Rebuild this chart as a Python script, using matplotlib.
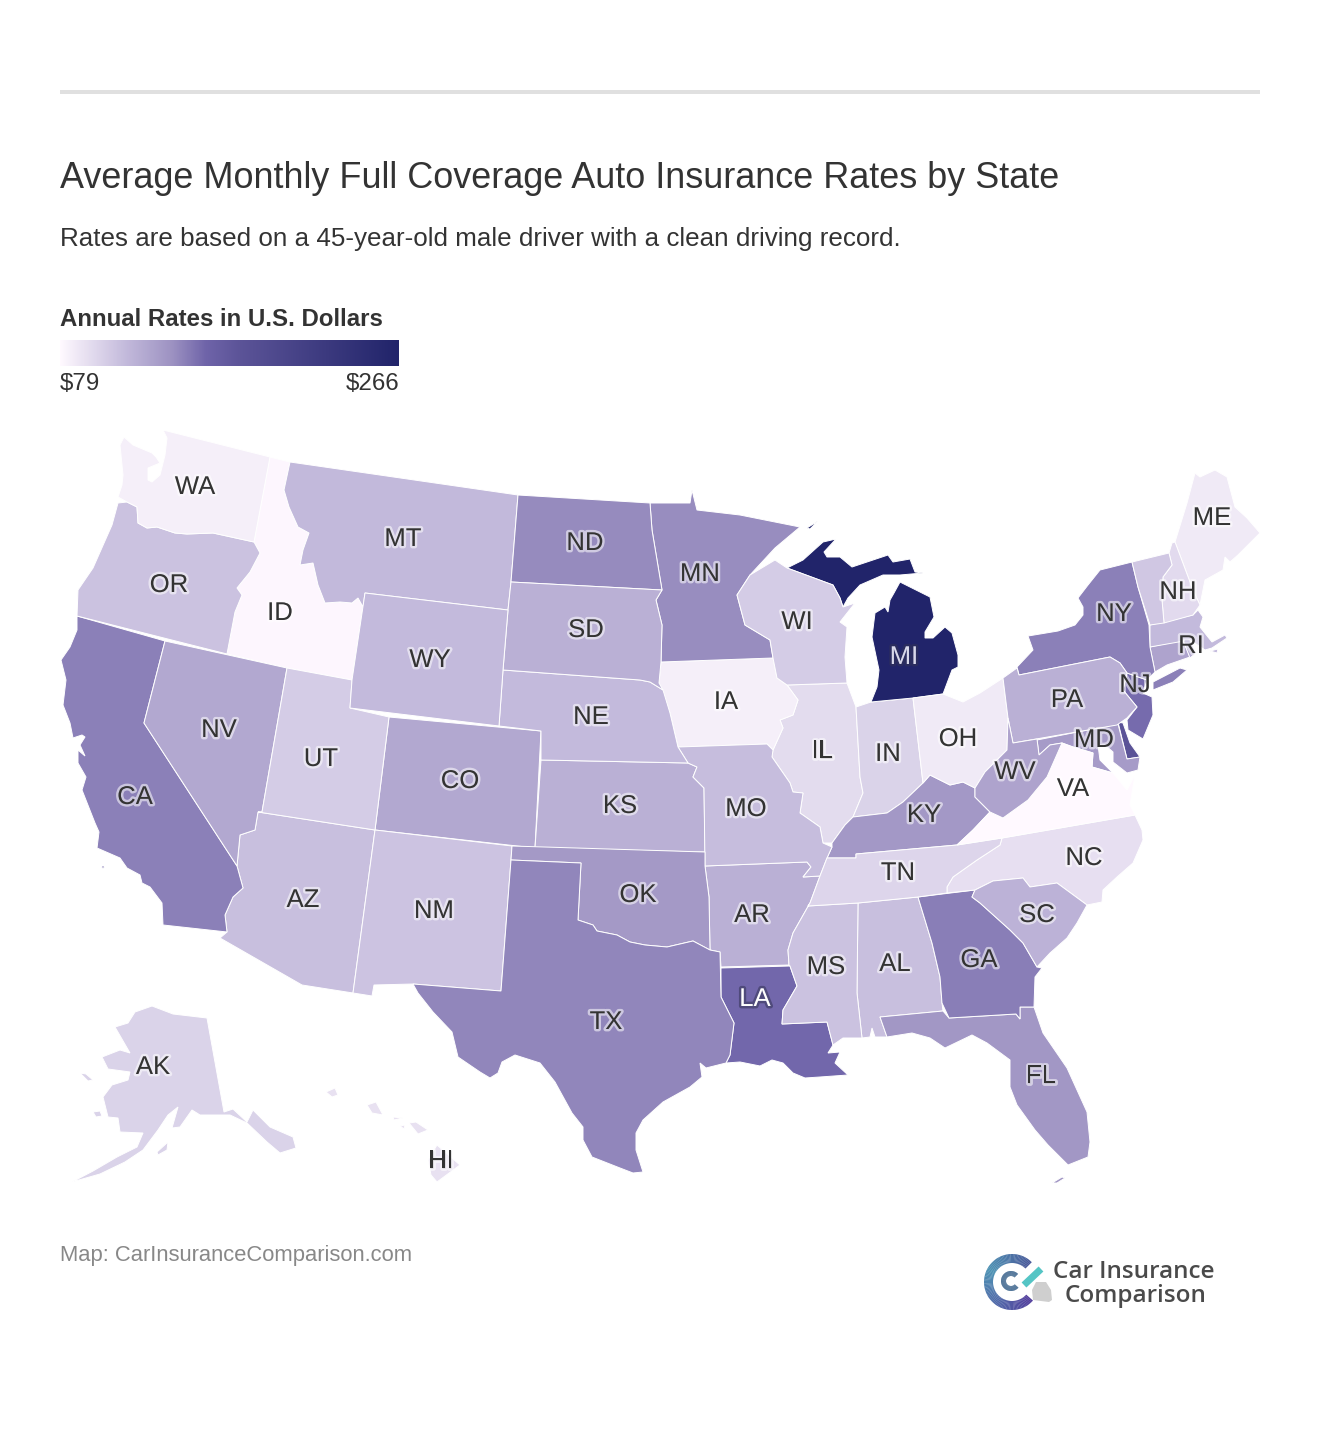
import numpy as np
import matplotlib.pyplot as plt
import matplotlib.patheffects as pe
from matplotlib.colors import LinearSegmentedColormap, Normalize
from matplotlib.patches import Polygon, Wedge, Rectangle

plt.rcParams['font.family'] = ['Liberation Sans', 'DejaVu Sans']

title = 'Average Monthly Full Coverage Auto Insurance Rates by State'
subtitle = 'Rates are based on a 45-year-old male driver with a clean driving record.'
legend_title = 'Annual Rates in U.S. Dollars'
source = 'Map: CarInsuranceComparison.com'
rate_min = 79
rate_max = 266

states = ['AL', 'AK', 'AZ', 'AR', 'CA', 'CO', 'CT', 'DE', 'FL', 'GA', 'HI', 'ID', 'IL', 'IN', 'IA', 'KS', 'KY',
          'LA', 'ME', 'MD', 'MA', 'MI', 'MN', 'MS', 'MO', 'MT', 'NE', 'NV', 'NH', 'NJ', 'NM', 'NY', 'NC', 'ND',
          'OH', 'OK', 'OR', 'PA', 'RI', 'SC', 'SD', 'TN', 'TX', 'UT', 'VT', 'VA', 'WA', 'WV', 'WI', 'WY']
rates = [112, 101, 112, 122, 148, 127, 130, 180, 138, 149, 93, 81, 96, 101, 85, 122, 137,
         158, 88, 135, 115, 266, 143, 111, 114, 116, 115, 127, 97, 157, 110, 148, 94, 144,
         88, 136, 111, 122, 125, 120, 122, 100, 146, 105, 108, 79, 85, 130, 105, 115]

# Contornos de cada estado, en pixeles de la imagen de referencia
outlines = {
    'WA': [[(163, 430), (270, 457), (254, 542), (213, 533), (187, 534), (175, 533), (157, 527), (147, 528), (138, 523),
            (137, 507), (127, 502), (118, 497), (122, 485), (123, 475), (120, 445), (124, 437), (133, 445), (152, 453),
            (156, 457), (160, 463), (148, 468), (148, 480), (152, 482), (160, 475), (165, 455), (167, 438)]],
    'OR': [[(118, 503), (127, 502), (137, 507), (138, 523), (147, 528), (157, 527), (175, 533), (187, 534), (213, 533),
            (254, 542), (260, 553), (250, 572), (237, 588), (242, 595), (235, 612), (227, 654), (77, 616), (78, 590),
            (93, 568), (112, 525)]],
    'ID': [[(270, 457), (290, 462), (284, 490), (289, 507), (298, 527), (309, 533), (303, 550), (300, 565), (313, 563),
            (318, 585), (325, 603), (340, 602), (352, 603), (358, 598), (363, 607), (365, 593), (352, 680), (287, 668),
            (227, 654), (235, 612), (242, 595), (237, 588), (250, 572), (260, 553), (254, 542)]],
    'MT': [[(290, 462), (518, 495), (511, 582), (508, 610), (365, 593), (363, 607), (358, 598), (352, 603), (340, 602),
            (325, 603), (318, 585), (313, 563), (300, 565), (303, 550), (309, 533), (298, 527), (289, 507), (284, 490)]],
    'ND': [[(518, 495), (650, 503), (652, 530), (662, 590), (511, 582)]],
    'SD': [[(511, 582), (662, 590), (656, 600), (662, 625), (661, 662), (659, 683), (663, 690), (650, 682), (640, 680),
            (503, 670), (508, 610)]],
    'WY': [[(365, 593), (508, 610), (503, 670), (499, 726), (350, 708), (352, 680)]],
    'NE': [[(503, 670), (640, 680), (650, 682), (663, 690), (670, 713), (678, 747), (688, 763), (541, 760), (541, 731),
            (499, 726)]],
    'KS': [[(541, 760), (688, 763), (697, 767), (693, 777), (704, 788), (705, 852), (535, 848)]],
    'CO': [[(389, 717), (541, 731), (535, 848), (375, 830)]],
    'NM': [[(375, 830), (512, 846), (511, 860), (501, 991), (413, 984), (374, 985), (372, 996), (353, 993)]],
    'AZ': [[(258, 812), (375, 830), (353, 993), (302, 985), (220, 938), (227, 932), (225, 915), (233, 897), (243, 888),
            (237, 866), (240, 835), (255, 830)]],
    'NV': [[(165, 641), (287, 668), (262, 812), (258, 812), (255, 830), (240, 835), (237, 866), (144, 723)]],
    'UT': [[(287, 668), (352, 680), (350, 708), (389, 717), (375, 830), (258, 812), (262, 812)]],
    'CA': [[(77, 616), (165, 641), (144, 723), (237, 866), (243, 888), (233, 897), (225, 915), (227, 932), (163, 925),
            (162, 903), (150, 887), (142, 883), (140, 875), (127, 868), (120, 858), (97, 848), (99, 832), (95, 823),
            (82, 790), (86, 777), (78, 763), (78, 750), (85, 756), (80, 745), (85, 737), (82, 735), (73, 738), (70, 723),
            (63, 705), (66, 680), (61, 660), (70, 647), (77, 630)],
           [(101, 866), (105, 866), (103, 869)]],
    'TX': [[(511, 860), (581, 863), (578, 920), (593, 925), (597, 931), (617, 935), (630, 942), (645, 945), (667, 947),
            (693, 941), (710, 950), (720, 952), (721, 997), (734, 1023), (730, 1055), (726, 1063), (706, 1068),
            (700, 1063), (702, 1077), (690, 1087), (663, 1102), (643, 1120), (636, 1133), (636, 1150), (643, 1172),
            (633, 1173), (620, 1168), (592, 1157), (583, 1140), (583, 1127), (572, 1113), (555, 1082), (540, 1063),
            (515, 1055), (502, 1062), (498, 1073), (490, 1078), (480, 1072), (458, 1057), (452, 1032), (433, 1012),
            (418, 993), (413, 984), (501, 991)]],
    'OK': [[(512, 846), (705, 852), (705, 866), (709, 897), (710, 950), (693, 941), (667, 947), (645, 945), (630, 942),
            (617, 935), (597, 931), (593, 925), (578, 920), (581, 863), (511, 860)]],
    'AR': [[(705, 866), (807, 862), (811, 867), (803, 877), (820, 876), (810, 903), (793, 933), (788, 950), (789, 965),
            (721, 967), (720, 952), (710, 950), (709, 897)]],
    'LA': [[(721, 968), (790, 966), (797, 986), (783, 1010), (782, 1024), (827, 1022), (833, 1045), (828, 1053),
            (840, 1052), (835, 1063), (848, 1075), (820, 1077), (805, 1078), (793, 1073), (783, 1063), (772, 1060),
            (760, 1066), (740, 1062), (726, 1063), (730, 1055), (734, 1023), (721, 997)]],
    'MO': [[(678, 747), (767, 744), (773, 750), (772, 757), (790, 783), (793, 792), (803, 793), (800, 813), (820, 827),
            (823, 843), (832, 847), (827, 858), (820, 876), (803, 877), (811, 867), (807, 862), (705, 866), (704, 788),
            (693, 777), (697, 767), (688, 763)]],
    'IA': [[(661, 662), (773, 658), (777, 678), (787, 685), (798, 700), (793, 715), (780, 720), (783, 728), (773, 750),
            (767, 744), (678, 747), (670, 713), (659, 683)]],
    'MN': [[(650, 503), (690, 503), (692, 490), (697, 510), (740, 515), (800, 527), (775, 548), (750, 575), (737, 595),
            (745, 625), (770, 640), (773, 658), (661, 662), (662, 625), (656, 600), (662, 590), (652, 530)]],
    'WI': [[(737, 595), (750, 575), (775, 560), (787, 568), (833, 585), (840, 598), (843, 607), (855, 603), (840, 622),
            (847, 627), (845, 657), (847, 683), (787, 685), (777, 678), (773, 658), (770, 640), (745, 625)]],
    'IL': [[(787, 685), (847, 683), (856, 707), (860, 777), (863, 793), (853, 817), (845, 825), (832, 843), (823, 843),
            (820, 827), (800, 813), (803, 793), (793, 792), (790, 783), (772, 757), (773, 750), (783, 728), (780, 720),
            (793, 715), (798, 700)]],
    'IN': [[(856, 707), (871, 702), (913, 698), (923, 783), (903, 802), (887, 813), (853, 817), (863, 793), (860, 777)]],
    'OH': [[(913, 698), (943, 694), (963, 702), (980, 693), (1003, 678), (1008, 718), (1007, 750), (985, 772),
            (975, 788), (963, 782), (950, 785), (930, 775), (923, 783)]],
    'MI': [[(871, 702), (913, 698), (943, 694), (952, 670), (958, 667), (958, 655), (952, 633), (945, 627), (933, 638),
            (925, 638), (925, 632), (934, 617), (930, 597), (900, 582), (894, 593), (890, 600), (888, 612), (885, 607),
            (875, 613), (872, 637), (879, 670), (877, 687)],
           [(787, 568), (803, 560), (823, 542), (836, 539), (824, 552), (827, 557), (840, 557), (852, 567), (867, 562),
            (888, 555), (893, 562), (910, 559), (915, 572), (923, 573), (900, 575), (883, 575), (860, 585), (848, 598),
            (843, 607), (840, 598), (833, 585)],
           [(807, 528), (818, 521), (810, 529)]],
    'KY': [[(923, 783), (930, 775), (950, 785), (963, 782), (975, 788), (975, 797), (990, 812), (973, 830), (957, 845),
            (856, 854), (856, 858), (827, 858), (832, 847), (832, 843), (845, 825), (853, 817), (887, 813), (903, 802)]],
    'TN': [[(827, 858), (856, 858), (856, 854), (957, 845), (1002, 838), (1000, 845), (977, 860), (953, 877), (947, 887),
            (947, 893), (918, 897), (858, 903), (808, 906), (810, 903), (820, 876)]],
    'NC': [[(1002, 838), (1135, 815), (1142, 830), (1143, 840), (1133, 863), (1117, 877), (1103, 890), (1102, 902),
            (1087, 905), (1057, 883), (1030, 887), (1023, 878), (993, 881), (975, 890), (947, 893), (947, 887),
            (953, 877), (977, 860), (1000, 845)]],
    'VA': [[(957, 845), (973, 830), (990, 812), (1003, 818), (1028, 800), (1047, 777), (1062, 743), (1073, 747),
            (1093, 753), (1092, 767), (1113, 773), (1127, 790), (1135, 775), (1130, 805), (1135, 815), (1002, 838)]],
    'WV': [[(1008, 718), (1013, 743), (1037, 739), (1039, 755), (1050, 745), (1062, 743), (1047, 777), (1028, 800),
            (1003, 818), (990, 812), (975, 797), (975, 788), (985, 772), (1007, 750)]],
    'PA': [[(1003, 678), (1017, 668), (1019, 675), (1110, 657), (1120, 663), (1127, 673), (1123, 690), (1137, 707),
            (1127, 718), (1117, 725), (1013, 743), (1008, 718)]],
    'NY': [[(1132, 562), (1100, 570), (1088, 585), (1078, 598), (1083, 607), (1083, 615), (1075, 625), (1058, 631),
            (1028, 636), (1033, 650), (1017, 667), (1019, 675), (1110, 657), (1120, 663), (1127, 673), (1147, 680),
            (1155, 672), (1150, 647), (1149, 625), (1138, 587)],
           [(1153, 682), (1180, 668), (1187, 670), (1173, 682), (1153, 690)]],
    'NJ': [[(1127, 673), (1147, 680), (1143, 693), (1152, 697), (1153, 715), (1143, 739), (1128, 730), (1127, 720),
            (1137, 707), (1123, 690)]],
    'DE': [[(1118, 722), (1123, 723), (1130, 743), (1140, 757), (1127, 759)]],
    'MD': [[(1037, 740), (1118, 724), (1127, 759), (1140, 757), (1138, 770), (1127, 773), (1113, 762), (1113, 752),
            (1105, 745), (1098, 745), (1100, 760), (1113, 773), (1092, 767), (1093, 753), (1073, 747), (1062, 743),
            (1050, 745), (1039, 755)]],
    'VT': [[(1132, 562), (1169, 553), (1172, 565), (1163, 577), (1162, 600), (1164, 623), (1150, 625), (1138, 587)]],
    'NH': [[(1169, 553), (1172, 543), (1175, 542), (1193, 590), (1200, 605), (1193, 615), (1164, 623), (1162, 600),
            (1163, 577), (1172, 565)]],
    'ME': [[(1175, 542), (1187, 503), (1195, 473), (1200, 477), (1215, 470), (1227, 477), (1235, 507), (1247, 518),
            (1260, 533), (1238, 555), (1230, 562), (1225, 557), (1223, 570), (1205, 580), (1200, 605), (1193, 590)]],
    'MA': [[(1150, 625), (1193, 615), (1198, 610), (1203, 617), (1200, 627), (1212, 642), (1225, 635), (1227, 638),
            (1212, 648), (1205, 650), (1190, 640), (1150, 647)],
           [(1210, 651), (1218, 649), (1217, 653)]],
    'CT': [[(1150, 647), (1183, 640), (1190, 657), (1167, 665), (1155, 672)]],
    'RI': [[(1183, 640), (1190, 640), (1196, 653), (1190, 658)]],
    'SC': [[(972, 897), (980, 903), (1010, 930), (1023, 943), (1037, 967), (1050, 953), (1067, 938), (1077, 923),
            (1087, 905), (1057, 883), (1030, 887), (1023, 878), (993, 881), (975, 890)]],
    'GA': [[(918, 897), (975, 890), (972, 897), (980, 903), (1010, 930), (1023, 943), (1037, 967), (1042, 968),
            (1035, 977), (1034, 1007), (1020, 1007), (1020, 1019), (1016, 1014), (949, 1018), (942, 1003), (940, 977),
            (932, 943)]],
    'AL': [[(858, 903), (918, 897), (932, 943), (940, 977), (942, 1003), (943, 1011), (880, 1017), (887, 1037),
            (875, 1037), (872, 1028), (870, 1037), (862, 1038), (857, 993)]],
    'MS': [[(808, 906), (858, 903), (857, 993), (862, 1038), (843, 1038), (833, 1045), (827, 1022), (782, 1024),
            (783, 1010), (797, 986), (790, 966), (789, 965), (788, 950), (793, 933), (810, 903)]],
    'FL': [[(880, 1017), (943, 1011), (949, 1018), (1016, 1014), (1020, 1019), (1020, 1007), (1034, 1007), (1043, 1033),
            (1067, 1068), (1087, 1112), (1090, 1142), (1088, 1157), (1068, 1165), (1048, 1145), (1035, 1130),
            (1017, 1105), (1010, 1087), (1010, 1060), (987, 1043), (972, 1035), (945, 1048), (930, 1038), (912, 1033),
            (887, 1037)],
           [(1052, 1183), (1062, 1177), (1065, 1178), (1057, 1183)]],
    'AK': [[(152, 1006), (173, 1014), (207, 1018), (224, 1112), (233, 1109), (247, 1122), (253, 1110), (270, 1127),
            (293, 1137), (296, 1148), (280, 1153), (267, 1142), (247, 1123), (230, 1115), (200, 1115), (192, 1110),
            (180, 1127), (172, 1128), (178, 1107), (168, 1115), (158, 1130), (143, 1150), (125, 1162), (100, 1174),
            (72, 1182), (93, 1171), (117, 1157), (137, 1147), (143, 1133), (120, 1132), (118, 1118), (108, 1117),
            (103, 1097), (112, 1085), (128, 1080), (130, 1072), (108, 1069), (102, 1057), (120, 1050), (130, 1053),
            (115, 1027), (128, 1023), (135, 1012)],
           [(157, 1152), (168, 1142), (167, 1150), (158, 1155)],
           [(93, 1112), (100, 1111), (102, 1116), (96, 1117)],
           [(80, 1073), (86, 1074), (93, 1080), (88, 1081)]],
    'HI': [[(326, 1092), (335, 1088), (338, 1095), (332, 1097)],
           [(367, 1105), (376, 1102), (383, 1115), (372, 1113)],
           [(393, 1117), (403, 1118), (394, 1120)],
           [(400, 1126), (405, 1125), (404, 1129)],
           [(409, 1123), (416, 1122), (428, 1130), (418, 1134)],
           [(428, 1160), (437, 1145), (460, 1165), (437, 1182), (431, 1175)]],
}

label_pos = {
    'WA': (195, 487), 'OR': (169, 585), 'ID': (280, 613), 'MT': (403, 539), 'ND': (585, 543), 'SD': (586, 630),
    'WY': (430, 660), 'NE': (591, 717), 'KS': (620, 806), 'CO': (460, 781), 'NM': (434, 911), 'AZ': (303, 900),
    'NV': (219, 730), 'UT': (321, 759), 'CA': (135, 797), 'TX': (606, 1022), 'OK': (638, 895), 'AR': (752, 915),
    'LA': (755, 999), 'MO': (746, 809), 'IA': (726, 702), 'MN': (700, 574), 'WI': (797, 622), 'IL': (822, 751),
    'IN': (888, 754), 'OH': (958, 739), 'MI': (904, 657), 'KY': (924, 815), 'TN': (898, 873), 'NC': (1084, 858),
    'VA': (1073, 789), 'WV': (1015, 772), 'PA': (1067, 700), 'NY': (1114, 614), 'NJ': (1135, 685), 'MD': (1094, 740),
    'NH': (1178, 592), 'ME': (1212, 518), 'RI': (1191, 646), 'SC': (1037, 915), 'GA': (979, 960), 'AL': (895, 964),
    'MS': (826, 967), 'FL': (1041, 1076), 'AK': (153, 1067), 'HI': (441, 1161),
}

# Escala de color de la leyenda
cmap = LinearSegmentedColormap.from_list('rates', [(0, '#fff9ff'), (0.19, '#c4bbdc'), (0.33, '#9d92c2'),
                                                   (0.43, '#6f64a9'), (0.53, '#5c5498'), (1, '#21246a')])
norm = Normalize(rate_min, rate_max)

fig = plt.figure(figsize=(13.2, 14.3), dpi=100)
ax = fig.add_axes([0, 0, 1, 1])

# Estados
for code, rate in zip(states, rates):
    for ring in outlines[code]:
        ax.add_patch(Polygon(ring, closed=True, facecolor=cmap(norm(rate)), edgecolor='white', linewidth=0.7))

# Etiquetas de los estados; las de estados oscuros van claras
for code, (x, y) in label_pos.items():
    if code in ('MI', 'LA'):
        text_color = '#d8d8ea' if code == 'MI' else 'white'
        halo = '#333355'
    else:
        text_color = '#333333'
        halo = 'white'
    ax.text(x, y, code, fontsize=18.5, color=text_color, ha='center', va='center',
            path_effects=[pe.withStroke(linewidth=3.5, foreground=halo, alpha=0.55)])

# Raya superior y textos
ax.add_patch(Rectangle((60, 90), 1200, 4, color='#e0e0e0', linewidth=0))
ax.text(60, 178, title, fontsize=25.93, color='#333333', va='center')
ax.text(60, 239, subtitle, fontsize=18.7, color='#333333', va='center')
ax.text(60, 320, legend_title, fontsize=17.3, color='#333333', fontweight='bold', va='center')
ax.text(60, 384, '$' + str(rate_min), fontsize=17.4, color='#333333', va='center')
ax.text(399, 384, '$' + str(rate_max), fontsize=17.4, color='#333333', va='center', ha='right')
ax.text(60, 1255, source, fontsize=15.85, color='#888888', va='center')

# Barra de color
ax.imshow(np.linspace(0, 1, 256).reshape(1, -1), cmap=cmap, extent=(60, 399, 366, 340), aspect='auto', zorder=2)

# Logo
logo_ring = LinearSegmentedColormap.from_list('ring', [(0, '#4a5a9a'), (0.39, '#4e93b4'), (1, '#533f9d')])
for a in range(45, 316, 3):
    ang1 = 360 - a - 3.5
    ax.add_patch(Wedge((1012, 1282), 28, ang1, 360 - a, width=9, color=logo_ring((a - 45) / 270), linewidth=0))
    ax.add_patch(Wedge((1011, 1281), 10, ang1, 360 - a, width=5, color='#2f5a85', linewidth=0))
ax.plot([1024, 1041], [1285, 1269], color='#55c5c5', linewidth=5, solid_capstyle='butt')
ax.add_patch(Polygon([(1032, 1290), (1036, 1282), (1046, 1282), (1051, 1290), (1052, 1300), (1049, 1302), (1033, 1300)],
                     closed=True, facecolor='#cfcfcf', edgecolor='none'))
ax.text(1134, 1272, 'Car Insurance', fontsize=17.5, color='#4a4a4a', ha='center', va='center',
        fontfamily=['Open Sans', 'DejaVu Sans'], fontweight='semibold')
ax.text(1136, 1296, 'Comparison', fontsize=17.5, color='#4a4a4a', ha='center', va='center',
        fontfamily=['Open Sans', 'DejaVu Sans'], fontweight='semibold')

ax.set_xlim(0, 1320)
ax.set_ylim(1430, 0)
ax.axis('off')

fig.savefig('out.png', dpi=100, facecolor='white')
